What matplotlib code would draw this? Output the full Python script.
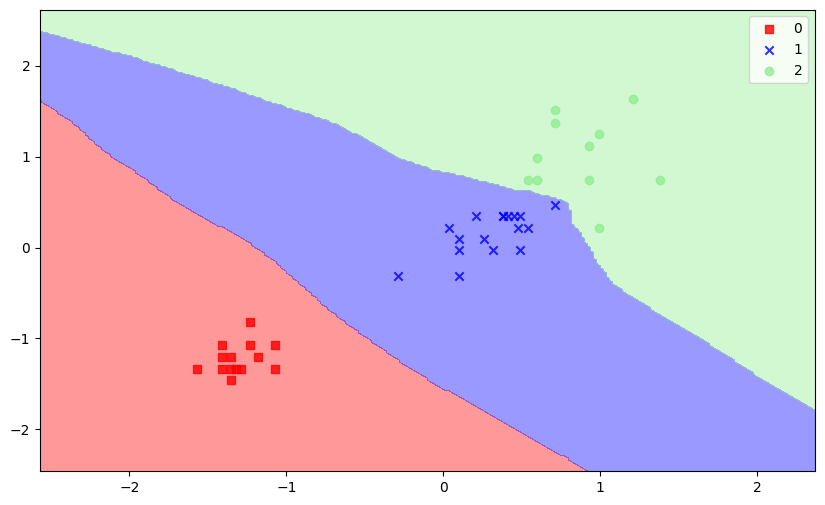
import matplotlib
matplotlib.use("Agg")
import matplotlib.pyplot as plt
import numpy as np
from matplotlib.colors import ListedColormap

# samples (standardized features)
class0_x = [-1.23, -1.41, -1.23, -1.07, -1.41, -1.35, -1.18, -1.57, -1.41, -1.35, -1.32, -1.29, -1.07, -1.35]
class0_y = [-0.82, -1.07, -1.07, -1.07, -1.20, -1.20, -1.20, -1.34, -1.34, -1.34, -1.34, -1.34, -1.34, -1.46]
class1_x = [0.21, 0.38, 0.38, 0.41, 0.45, 0.49, 0.71, 0.04, 0.48, 0.54, 0.10, 0.26, 0.10, 0.32, 0.49, -0.29, 0.10]
class1_y = [0.35, 0.35, 0.35, 0.35, 0.35, 0.35, 0.47, 0.22, 0.22, 0.22, 0.09, 0.09, -0.03, -0.03, -0.03, -0.31, -0.31]
class2_x = [1.21, 0.71, 0.71, 0.99, 0.93, 0.60, 0.54, 0.60, 0.93, 1.38, 0.99]
class2_y = [1.64, 1.51, 1.37, 1.25, 1.12, 0.99, 0.74, 0.74, 0.74, 0.74, 0.22]

# decision boundaries (x, y)
red_blue_x = [-2.60, -2.573, -2.361, -2.148, -1.936, -1.724, -1.511, -1.299, -1.087, -0.875, -0.705,
              -0.492, -0.280, -0.068, 0.145, 0.357, 0.569, 0.782, 0.887, 0.93]
red_blue_y = [1.65, 1.626, 1.370, 1.041, 0.802, 0.527, 0.308, 0.124, -0.132, -0.462, -0.718,
              -0.992, -1.249, -1.487, -1.689, -1.890, -2.110, -2.311, -2.421, -2.46]
blue_green_x = [-2.60, -2.573, -1.936, -1.320, -1.087, -0.875, -0.662, -0.492, -0.280, -0.068, 0.145,
                0.357, 0.484, 0.548, 0.611, 0.675, 0.803, 0.813, 0.824, 0.887, 0.951, 0.994,
                1.100, 1.248, 1.397, 1.546, 1.779, 2.034, 2.352, 2.40]
blue_green_y = [2.40, 2.388, 2.074, 1.736, 1.590, 1.480, 1.346, 1.187, 0.986, 0.857, 0.777,
                0.681, 0.619, 0.630, 0.582, 0.564, 0.491, 0.381, 0.271, 0.124, -0.058, -0.205,
                -0.425, -0.590, -0.755, -0.901, -1.157, -1.451, -1.780, -1.83]

labels = [0, 1, 2]
colors = ["red", "blue", "lightgreen"]
markers = ["s", "x", "o"]


def main():
    all_x = class0_x + class1_x + class2_x
    all_y = class0_y + class1_y + class2_y
    x_min, x_max = min(all_x) - 1, max(all_x) + 1
    y_min, y_max = min(all_y) - 1, max(all_y) + 1
    resolution = 0.02
    xx1, xx2 = np.meshgrid(np.arange(x_min, x_max, resolution),
                           np.arange(y_min, y_max, resolution))

    lower = np.interp(xx1, red_blue_x, red_blue_y)
    upper = np.interp(xx1, blue_green_x, blue_green_y)
    Z = np.ones_like(xx1)
    Z[xx2 < lower] = 0
    Z[xx2 > upper] = 2

    fig = plt.figure(figsize=(8.25, 5.05), dpi=100)
    ax = fig.add_axes([40 / 825, 34 / 505, 775 / 825, 461.5 / 505])
    cmap = ListedColormap(colors)
    ax.contourf(xx1, xx2, Z, alpha=0.4, cmap=cmap, levels=[-0.5, 0.5, 1.5, 2.5])
    ax.set_xlim(xx1.min(), xx1.max())
    ax.set_ylim(xx2.min(), xx2.max())

    groups = [(class0_x, class0_y), (class1_x, class1_y), (class2_x, class2_y)]
    for idx, (gx, gy) in enumerate(groups):
        ax.scatter(gx, gy, alpha=0.8, c=colors[idx], marker=markers[idx], label=labels[idx])

    ax.legend(loc="upper right")
    fig.savefig("out.png", dpi=100)
    plt.close(fig)


if __name__ == "__main__":
    main()
